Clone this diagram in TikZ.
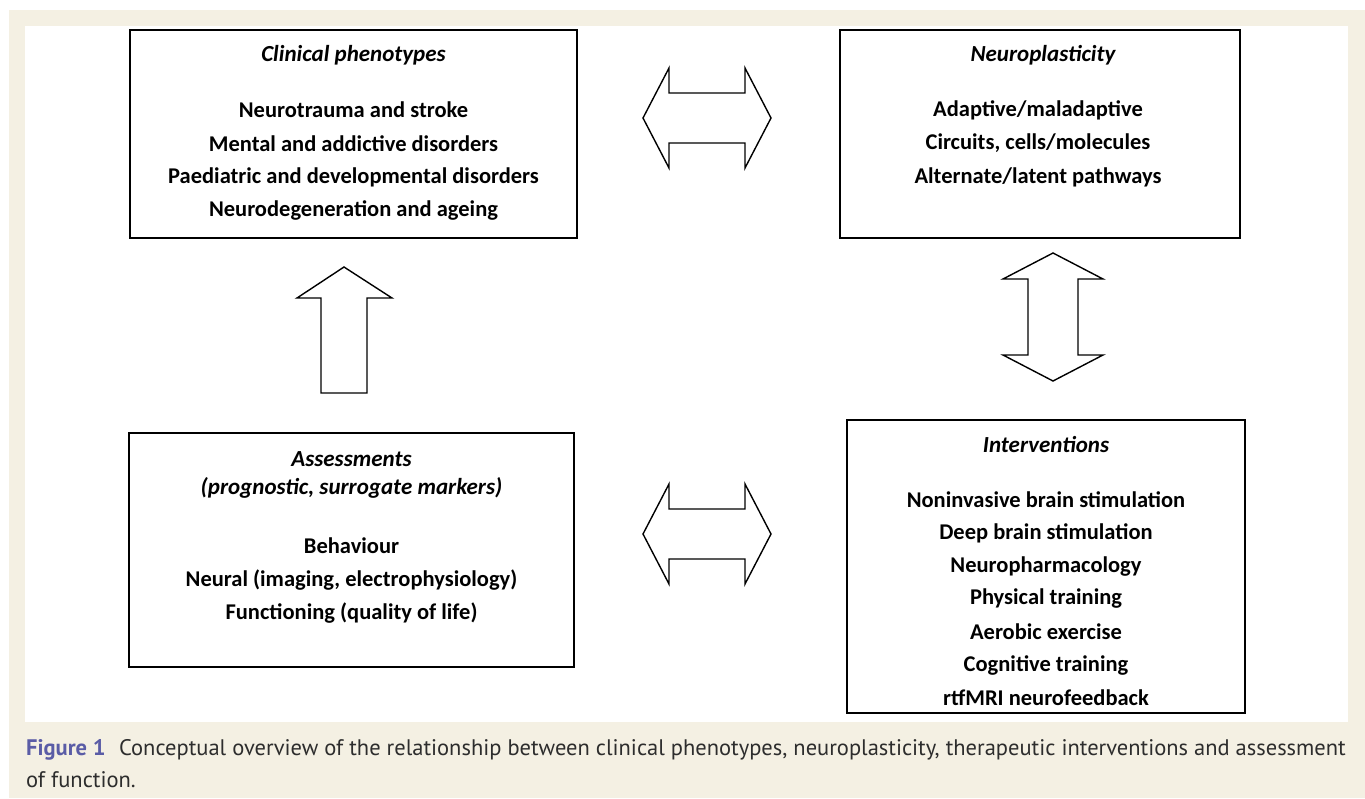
\documentclass[tikz,border=0pt]{standalone}
\usepackage{fontspec}
\setmainfont{Carlito}
\newfontfamily\capfont{PT Sans}
\usetikzlibrary{positioning}
\definecolor{cream}{RGB}{244,240,227}
\definecolor{figblue}{RGB}{90,92,166}
\definecolor{captext}{RGB}{45,45,45}
\tikzset{
  box/.style={draw=black, line width=2pt, fill=white, inner sep=0pt},
  title/.style={font=\fontsize{23}{27}\selectfont\bfseries\itshape, inner sep=0pt, anchor=center},
  body/.style={font=\fontsize{22.5}{27}\selectfont\bfseries, inner sep=0pt, anchor=center},
  blockarrow/.style={draw=black, line width=1.4pt, fill=white, line join=miter},
  captext/.style={font=\capfont\fontsize{22.5}{27}\selectfont, text=captext, inner sep=0pt, anchor=base west},
  pics/dblarrow/.style={code={
    \draw[blockarrow] (-64,0) -- (-38,-50) -- (-38,-25) -- (38,-25) -- (38,-50) -- (64,0)
      -- (38,50) -- (38,25) -- (-38,25) -- (-38,50) -- cycle;}}
}
\begin{document}
\begin{tikzpicture}[x=1pt,y=-1pt]
\useasboundingbox (0,0) rectangle (1365,798);
\fill[white] (0,0) rectangle (1365,798);
\fill[cream] (9,10) rectangle (1365,798);
\fill[white] (25,26) rectangle (1348,722);

% boxes
\node[box, minimum width=447pt, minimum height=208pt] (clin) at (353.5,134) {};
\node[box, minimum width=400pt, minimum height=208pt] (neuro) at (1040,134) {};
\node[box, minimum width=445pt, minimum height=234pt] (assess) at (351.5,550) {};
\node[box, minimum width=398pt, minimum height=293pt] (interv) at (1046,566.5) {};

% clinical phenotypes
\node[title] (clint) at (353.5,55) {Clinical phenotypes};
\node[body] (clin1) at (353.5,110) {Neurotrauma and stroke};
\node[body] (clin2) at (353.5,143.5) {Mental and addictive disorders};
\node[body] (clin3) at (353.5,177) {Paediatric and developmental disorders};
\node[body] (clin4) at (353.5,210.5) {Neurodegeneration and ageing};

% neuroplasticity
\node[title] (neurot) at (1043,55) {Neuroplasticity};
\node[body] (neuro1) at (1038,110) {Adaptive/maladaptive};
\node[body] (neuro2) at (1038,143.5) {Circuits, cells/molecules};
\node[body] (neuro3) at (1038,177) {Alternate/latent pathways};

% assessments
\node[title] (assesst1) at (351.5,459) {Assessments};
\node[title] (assesst2) at (351.5,488) {(prognostic, surrogate markers)};
\node[body] (assess1) at (351.5,546) {Behaviour};
\node[body] (assess2) at (351.5,580) {Neural (imaging, electrophysiology)};
\node[body] (assess3) at (351.5,613) {Functioning (quality of life)};

% interventions
\node[title] (intervt) at (1046,445) {Interventions};
\node[body] (interv1) at (1046,500) {Noninvasive brain stimulation};
\node[body] (interv2) at (1046,533) {Deep brain stimulation};
\node[body] (interv3) at (1046,566.5) {Neuropharmacology};
\node[body] (interv4) at (1046,599) {Physical training};
\node[body] (interv5) at (1046,632) {Aerobic exercise};
\node[body] (interv6) at (1046,665) {Cognitive training};
\node[body] (interv7) at (1046,698) {rtfMRI neurofeedback};

% block arrows
\pic at (707,118) {dblarrow};
\pic at (707,534) {dblarrow};
\pic[rotate=90] at (1053,317) {dblarrow};
\draw[blockarrow] (344,267) -- (392,298) -- (367,298) -- (367,393) -- (321,393) -- (321,298) -- (297,298) -- cycle;

% caption
\node[captext] (cap1) at (26,755) {\textcolor{figblue}{\bfseries Figure 1}\hspace{0.6em}Conceptual overview of the relationship between clinical phenotypes, neuroplasticity, therapeutic interventions and assessment};
\node[captext] (cap2) at (26,787) {of function.};
\end{tikzpicture}
\end{document}
